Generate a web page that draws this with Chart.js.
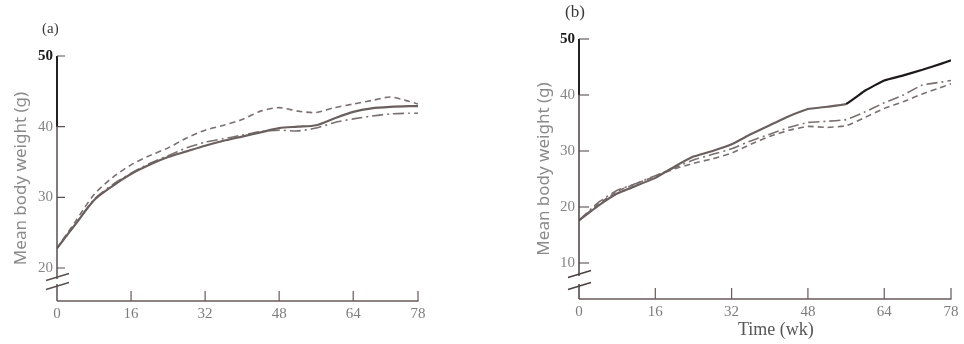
<!DOCTYPE html>
<html><head><meta charset="utf-8">
<script src="https://cdn.jsdelivr.net/npm/chart.js@4.4.1/dist/chart.umd.min.js"></script>
<style>
html,body{margin:0;padding:0;background:#fff;}
#wrap{position:relative;width:964px;height:344px;overflow:hidden;background:#fff;}
canvas{position:absolute;top:0;}
.lbl{position:absolute;font-family:"Liberation Serif",serif;color:#3a3a3a;white-space:nowrap;line-height:1;}
</style></head><body>
<div id="wrap">
<canvas id="ca" width="480" height="344" style="left:0"></canvas>
<canvas id="cb" width="484" height="344" style="left:480px"></canvas>
<div class="lbl" style="left:42px;top:21px;font-size:15px">(a)</div>
<div class="lbl" style="left:565px;top:3px;font-size:17px">(b)</div>
<div class="lbl" style="left:738px;top:320px;font-size:18px;color:#555">Time (wk)</div>
</div>
<script>
// ---- data ----
const weeks    = [0, 4, 8, 12, 16, 20, 24, 28, 32, 36, 40, 44, 48, 52, 56, 60, 64, 68, 72, 76, 78];
// panel (a)
const aSolid   = [22.8, 26.2, 29.6, 31.6, 33.3, 34.6, 35.7, 36.5, 37.3, 38.0, 38.6, 39.2, 39.8, 40.0, 40.2, 41.2, 42.1, 42.6, 42.8, 42.9, 42.9];
const aDashed  = [22.8, 26.6, 30.4, 32.8, 34.6, 35.9, 37.0, 38.4, 39.5, 40.2, 41.0, 42.2, 42.7, 42.2, 42.0, 42.7, 43.2, 43.7, 44.2, 43.6, 43.2];
const aDashDot = [22.8, 26.2, 29.7, 31.8, 33.4, 34.8, 35.9, 37.0, 37.8, 38.3, 38.8, 39.3, 39.5, 39.4, 39.8, 40.6, 41.1, 41.5, 41.8, 41.9, 41.9];
// panel (b)
const bSolid   = [17.6, 20.2, 22.4, 23.8, 25.2, 27.2, 29.0, 30.0, 31.2, 33.0, 34.6, 36.2, 37.5, 37.9, 38.4, 40.8, 42.6, 43.5, 44.5, 45.6, 46.2];
const bDashed  = [17.6, 20.5, 22.8, 24.2, 25.5, 26.8, 27.8, 28.6, 29.6, 31.2, 32.6, 33.7, 34.4, 34.2, 34.5, 36.0, 37.6, 38.8, 40.2, 41.4, 42.0];
const bDashDot = [17.6, 20.8, 23.0, 24.2, 25.6, 27.0, 28.4, 29.4, 30.4, 31.8, 33.0, 34.2, 35.1, 35.3, 35.6, 37.0, 38.6, 40.0, 41.8, 42.3, 42.6];
// ticks
const xTickValues = [0, 16, 32, 48, 64, 78];
const yTicksA = [20, 30, 40, 50];
const yTicksB = [10, 20, 30, 40, 50];
const yTitle = 'Mean body weight (g)';

const pts = arr => arr.map((v, i) => ({x: weeks[i], y: v}));

const axisPlugin = {
  id: 'axes',
  afterDatasetsDraw(chart, args, o) {
    const {ctx, chartArea: a, scales: {x, y}} = chart;
    ctx.save();
    ctx.lineCap = 'butt';
    // x axis line
    ctx.strokeStyle = o.xColor; ctx.lineWidth = 1.5;
    ctx.beginPath(); ctx.moveTo(a.left, a.bottom); ctx.lineTo(a.right + 0.5, a.bottom); ctx.stroke();
    // x ticks pointing up
    ctx.beginPath();
    xTickValues.forEach(v => { if (v === 0) return; const px = x.getPixelForValue(v); ctx.moveTo(px, a.bottom); ctx.lineTo(px, a.bottom - o.xTickLen); });
    ctx.lineWidth = 1.2; ctx.stroke();
    // y axis with break
    const b1 = a.bottom - o.brk1, b2 = a.bottom - o.brk2;
    ctx.strokeStyle = o.yColor; ctx.lineWidth = 1.5;
    ctx.beginPath();
    ctx.moveTo(a.left, a.top); ctx.lineTo(a.left, b1 + 2);
    ctx.moveTo(a.left, b2 - 2); ctx.lineTo(a.left, a.bottom);
    ctx.stroke();
    // darker top segment
    ctx.strokeStyle = '#222'; ctx.lineWidth = 2;
    ctx.beginPath(); ctx.moveTo(a.left, a.top); ctx.lineTo(a.left, y.getPixelForValue(o.darkTo)); ctx.stroke();
    // y ticks pointing inward
    ctx.strokeStyle = o.yColor; ctx.lineWidth = 1.2;
    ctx.beginPath();
    o.yTicks.forEach(v => { const py = y.getPixelForValue(v); ctx.moveTo(a.left, py); ctx.lineTo(a.left + o.yTickLen, py); });
    ctx.stroke();
    // break slashes
    ctx.strokeStyle = o.yColor; ctx.lineWidth = 1.4;
    ctx.beginPath();
    [b1, b2].forEach(by => { ctx.moveTo(a.left - 11, by + 3.5); ctx.lineTo(a.left + 12, by - 3.5); });
    ctx.stroke();
    ctx.restore();
  }
};

function makeChart(id, s1, s2, s3, yMin, yTicks, layoutPad, yWidth, xHeight, titlePad, solidSeg, tension, pluginOpts) {
  return new Chart(document.getElementById(id), {
    type: 'line',
    data: {
      datasets: [
        {label: 'solid', data: pts(s1), borderColor: '#6b5f5f', borderWidth: 2.2, pointRadius: 0, tension: tension,
         segment: solidSeg ? {borderColor: c => c.p0.parsed.x >= 56 ? '#1e1a1a' : '#6b5f5f'} : undefined},
        {label: 'dashed', data: pts(s2), borderColor: '#7a7070', borderWidth: 1.6, borderDash: [6, 4], pointRadius: 0, tension: tension},
        {label: 'dashdot', data: pts(s3), borderColor: '#7a7070', borderWidth: 1.6, borderDash: [11, 4, 2, 4], pointRadius: 0, tension: tension}
      ]
    },
    options: {
      responsive: false, animation: false,
      layout: {padding: layoutPad},
      plugins: {legend: {display: false}, tooltip: {enabled: false}, axes: pluginOpts},
      scales: {
        x: {
          type: 'linear', min: 0, max: 78,
          grid: {display: false, drawTicks: false}, border: {display: false},
          afterBuildTicks: s => { s.ticks = xTickValues.map(v => ({value: v})); },
          afterFit: s => { s.height = xHeight; },
          ticks: {padding: 4, color: '#7d7d7d', font: {family: 'Liberation Serif', size: 15}, maxRotation: 0, autoSkip: false}
        },
        y: {
          type: 'linear', min: yMin, max: 50,
          grid: {display: false, drawTicks: false}, border: {display: false},
          afterBuildTicks: s => { s.ticks = yTicks.map(v => ({value: v})); },
          afterFit: s => { s.width = yWidth; },
          ticks: {
            padding: 4,
            color: c => c.tick && c.tick.value === 50 ? '#1a1a1a' : '#858585',
            font: c => ({family: 'Liberation Serif', size: 15, weight: c.tick && c.tick.value === 50 ? 'bold' : 'normal'})
          },
          title: {display: true, text: yTitle, color: '#8a8a8a', padding: {top: titlePad, bottom: 0},
                  font: {family: 'Noto Sans', size: 17}}
        }
      }
    },
    plugins: [axisPlugin]
  });
}

makeChart('ca', aSolid, aDashed, aDashDot, 15.33, yTicksA,
  {left: 0, top: 56, right: 62, bottom: 0}, 57, 43, 11, false, 0.25,
  {xColor: '#6a5858', yColor: '#5a5050', xTickLen: 10, yTickLen: 8, brk1: 24, brk2: 15, darkTo: 40, yTicks: yTicksA});
makeChart('cb', bSolid, bDashed, bDashDot, 3.57, yTicksB,
  {left: 0, top: 39, right: 13, bottom: 0}, 99, 45, 54, true, 0.1,
  {xColor: '#6a5858', yColor: '#4a4040', xTickLen: 11, yTickLen: 10, brk1: 25, brk2: 13, darkTo: 40, yTicks: yTicksB});
</script>
</body></html>
